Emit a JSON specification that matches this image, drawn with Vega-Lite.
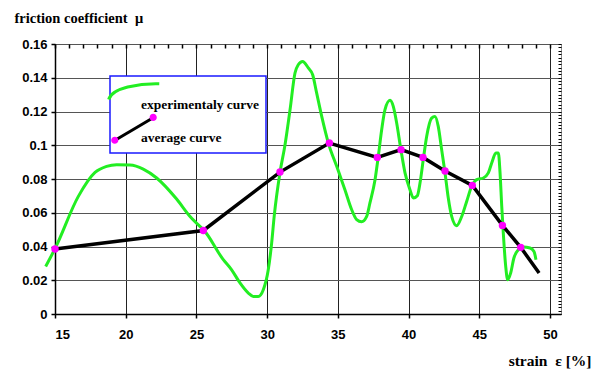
{
  "$schema": "https://vega.github.io/schema/vega-lite/v6.json",
  "autosize": {"type": "none"},
  "padding": {"left": 55, "top": 44, "right": 42, "bottom": 57},
  "width": 506,
  "height": 270,
  "background": "white",
  "config": {
    "view": {"stroke": "#8a8a8a", "strokeWidth": 1},
    "axis": {"labelFont": "Liberation Sans", "labelFontWeight": "bold", "labelFontSize": 13, "labelColor": "black", "tickColor": "black", "domainColor": "black"}
  },
  "datasets": {
    "experimental": [
      {"strain": 14.34, "mu": 0.0282, "series": "experimentaly curve"},
      {"strain": 15.0, "mu": 0.0387, "series": "experimentaly curve"},
      {"strain": 16.65, "mu": 0.0697, "series": "experimentaly curve"},
      {"strain": 17.83, "mu": 0.0839, "series": "experimentaly curve"},
      {"strain": 18.65, "mu": 0.0875, "series": "experimentaly curve"},
      {"strain": 19.36, "mu": 0.0885, "series": "experimentaly curve"},
      {"strain": 20.3, "mu": 0.0883, "series": "experimentaly curve"},
      {"strain": 21.24, "mu": 0.0859, "series": "experimentaly curve"},
      {"strain": 22.19, "mu": 0.0806, "series": "experimentaly curve"},
      {"strain": 23.6, "mu": 0.0681, "series": "experimentaly curve"},
      {"strain": 24.55, "mu": 0.0578, "series": "experimentaly curve"},
      {"strain": 25.25, "mu": 0.0519, "series": "experimentaly curve"},
      {"strain": 25.49, "mu": 0.05, "series": "experimentaly curve"},
      {"strain": 26.9, "mu": 0.0322, "series": "experimentaly curve"},
      {"strain": 27.49, "mu": 0.0262, "series": "experimentaly curve"},
      {"strain": 28.08, "mu": 0.0184, "series": "experimentaly curve"},
      {"strain": 28.67, "mu": 0.0124, "series": "experimentaly curve"},
      {"strain": 29.02, "mu": 0.0104, "series": "experimentaly curve"},
      {"strain": 29.37, "mu": 0.0104, "series": "experimentaly curve"},
      {"strain": 29.73, "mu": 0.0144, "series": "experimentaly curve"},
      {"strain": 30.08, "mu": 0.0262, "series": "experimentaly curve"},
      {"strain": 30.32, "mu": 0.042, "series": "experimentaly curve"},
      {"strain": 30.5, "mu": 0.058, "series": "experimentaly curve"},
      {"strain": 30.91, "mu": 0.0839, "series": "experimentaly curve"},
      {"strain": 31.26, "mu": 0.1, "series": "experimentaly curve"},
      {"strain": 31.62, "mu": 0.121, "series": "experimentaly curve"},
      {"strain": 31.97, "mu": 0.1428, "series": "experimentaly curve"},
      {"strain": 32.2, "mu": 0.1477, "series": "experimentaly curve"},
      {"strain": 32.51, "mu": 0.1497, "series": "experimentaly curve"},
      {"strain": 32.91, "mu": 0.1458, "series": "experimentaly curve"},
      {"strain": 33.22, "mu": 0.1418, "series": "experimentaly curve"},
      {"strain": 33.5, "mu": 0.131, "series": "experimentaly curve"},
      {"strain": 33.86, "mu": 0.1171, "series": "experimentaly curve"},
      {"strain": 34.33, "mu": 0.1013, "series": "experimentaly curve"},
      {"strain": 34.92, "mu": 0.0875, "series": "experimentaly curve"},
      {"strain": 35.5, "mu": 0.0737, "series": "experimentaly curve"},
      {"strain": 35.98, "mu": 0.0618, "series": "experimentaly curve"},
      {"strain": 36.33, "mu": 0.0559, "series": "experimentaly curve"},
      {"strain": 36.68, "mu": 0.0546, "series": "experimentaly curve"},
      {"strain": 37.04, "mu": 0.0578, "series": "experimentaly curve"},
      {"strain": 37.27, "mu": 0.0658, "series": "experimentaly curve"},
      {"strain": 37.63, "mu": 0.0796, "series": "experimentaly curve"},
      {"strain": 37.86, "mu": 0.0934, "series": "experimentaly curve"},
      {"strain": 38.1, "mu": 0.1092, "series": "experimentaly curve"},
      {"strain": 38.33, "mu": 0.121, "series": "experimentaly curve"},
      {"strain": 38.69, "mu": 0.1266, "series": "experimentaly curve"},
      {"strain": 38.92, "mu": 0.123, "series": "experimentaly curve"},
      {"strain": 39.16, "mu": 0.1132, "series": "experimentaly curve"},
      {"strain": 39.44, "mu": 0.0984, "series": "experimentaly curve"},
      {"strain": 39.75, "mu": 0.0836, "series": "experimentaly curve"},
      {"strain": 40.1, "mu": 0.0737, "series": "experimentaly curve"},
      {"strain": 40.34, "mu": 0.0687, "series": "experimentaly curve"},
      {"strain": 40.62, "mu": 0.0701, "series": "experimentaly curve"},
      {"strain": 40.81, "mu": 0.0776, "series": "experimentaly curve"},
      {"strain": 41.04, "mu": 0.0914, "series": "experimentaly curve"},
      {"strain": 41.28, "mu": 0.1052, "series": "experimentaly curve"},
      {"strain": 41.63, "mu": 0.1161, "series": "experimentaly curve"},
      {"strain": 41.87, "mu": 0.1171, "series": "experimentaly curve"},
      {"strain": 42.1, "mu": 0.1112, "series": "experimentaly curve"},
      {"strain": 42.34, "mu": 0.0974, "series": "experimentaly curve"},
      {"strain": 42.58, "mu": 0.0836, "series": "experimentaly curve"},
      {"strain": 42.81, "mu": 0.0687, "series": "experimentaly curve"},
      {"strain": 43.05, "mu": 0.0578, "series": "experimentaly curve"},
      {"strain": 43.4, "mu": 0.0523, "series": "experimentaly curve"},
      {"strain": 43.76, "mu": 0.0578, "series": "experimentaly curve"},
      {"strain": 44.11, "mu": 0.0667, "series": "experimentaly curve"},
      {"strain": 44.46, "mu": 0.0756, "series": "experimentaly curve"},
      {"strain": 44.82, "mu": 0.0796, "series": "experimentaly curve"},
      {"strain": 45.29, "mu": 0.0806, "series": "experimentaly curve"},
      {"strain": 45.64, "mu": 0.0836, "series": "experimentaly curve"},
      {"strain": 45.88, "mu": 0.0895, "series": "experimentaly curve"},
      {"strain": 46.18, "mu": 0.0954, "series": "experimentaly curve"},
      {"strain": 46.35, "mu": 0.0954, "series": "experimentaly curve"},
      {"strain": 46.47, "mu": 0.0836, "series": "experimentaly curve"},
      {"strain": 46.59, "mu": 0.0638, "series": "experimentaly curve"},
      {"strain": 46.7, "mu": 0.048, "series": "experimentaly curve"},
      {"strain": 46.87, "mu": 0.0282, "series": "experimentaly curve"},
      {"strain": 47.01, "mu": 0.0203, "series": "experimentaly curve"},
      {"strain": 47.22, "mu": 0.0243, "series": "experimentaly curve"},
      {"strain": 47.45, "mu": 0.0332, "series": "experimentaly curve"},
      {"strain": 47.76, "mu": 0.0381, "series": "experimentaly curve"},
      {"strain": 48.11, "mu": 0.0397, "series": "experimentaly curve"},
      {"strain": 48.59, "mu": 0.0391, "series": "experimentaly curve"},
      {"strain": 48.87, "mu": 0.0371, "series": "experimentaly curve"},
      {"strain": 49.01, "mu": 0.0322, "series": "experimentaly curve"}
    ],
    "average": [
      {"strain": 15.0, "mu": 0.0385, "series": "average curve", "marker": "dot"},
      {"strain": 25.49, "mu": 0.0495, "series": "average curve", "marker": "dot"},
      {"strain": 30.91, "mu": 0.0841, "series": "average curve", "marker": "dot"},
      {"strain": 34.4, "mu": 0.1013, "series": "average curve", "marker": "dot"},
      {"strain": 37.79, "mu": 0.0928, "series": "average curve", "marker": "dot"},
      {"strain": 39.47, "mu": 0.0974, "series": "average curve", "marker": "dot"},
      {"strain": 41.02, "mu": 0.0928, "series": "average curve", "marker": "dot"},
      {"strain": 42.58, "mu": 0.0847, "series": "average curve", "marker": "dot"},
      {"strain": 44.51, "mu": 0.0762, "series": "average curve", "marker": "dot"},
      {"strain": 46.64, "mu": 0.0525, "series": "average curve", "marker": "dot"},
      {"strain": 47.93, "mu": 0.0395, "series": "average curve", "marker": "dot"},
      {"strain": 49.23, "mu": 0.0243, "series": "average curve", "marker": "none"}
    ]
  },
  "resolve": {"axis": {"x": "independent", "y": "independent"}},
  "layer": [
    {
      "data": {"name": "experimental"},
      "mark": {"type": "line", "strokeWidth": 3, "interpolate": "monotone", "clip": false},
      "encoding": {
        "x": {
          "field": "strain", "type": "quantitative",
          "scale": {"domain": [15, 50.78], "nice": false, "zero": false},
          "axis": {
            "values": [15, 20, 25, 30, 35, 40, 45, 50],
            "grid": true, "gridColor": "#222222", "gridWidth": 1,
            "domainWidth": 1.5, "tickSize": 4, "tickWidth": 1.5, "labelPadding": 10,
            "title": "strain \u00a0ε [%]", "titleFont": "Liberation Serif", "titleFontWeight": "bold", "titleFontSize": 15.5,
            "titleX": 536, "titleY": 51, "titleAlign": "right", "titleBaseline": "alphabetic", "titleAnchor": null
          }
        },
        "y": {
          "field": "mu", "type": "quantitative",
          "scale": {"domain": [0, 0.16], "nice": false},
          "axis": {
            "values": [0, 0.02, 0.04, 0.06, 0.08, 0.1, 0.12, 0.14, 0.16],
            "format": "~g",
            "grid": true, "gridColor": "#555555", "gridWidth": 1,
            "domainWidth": 1.5, "tickSize": 4, "tickWidth": 1.5, "labelPadding": 4,
            "title": "friction coefficient \u00a0μ", "titleFont": "Liberation Serif", "titleFontWeight": "bold", "titleFontSize": 14.5,
            "titleAngle": 0, "titleX": -41, "titleY": -22, "titleAlign": "left", "titleBaseline": "alphabetic", "titleAnchor": null
          }
        },
        "color": {
          "field": "series", "type": "nominal",
          "scale": {"domain": ["experimentaly curve", "average curve"], "range": ["#22ee22", "#000000"]},
          "legend": {
            "orient": "none", "legendX": 55, "legendY": 32,
            "title": "\u00a0", "titleFontSize": 8, "titlePadding": 4,
            "strokeColor": "#1a1aff", "fillColor": "white", "padding": 6,
            "symbolSize": 324, "symbolStrokeWidth": 3,
            "labelFont": "Liberation Serif", "labelFontWeight": "bold", "labelFontSize": 13.5, "labelColor": "black",
            "labelOffset": 4, "rowPadding": 0,
            "encode": {
              "legend": {"update": {"strokeWidth": {"value": 1.5}}},
              "symbols": {"update": {
                "shape": {"signal": "datum.value === 'average curve' ? 'M-1.36,0.36 L2.91,-2.17' : 'M-1.98,-0.56 Q-1.7,-1.5 0.13,-1.95 Q1.9,-2.35 3.64,-2.3'"},
                "fill": {"value": "transparent"}
              }}
            }
          }
        }
      }
    },
    {
      "data": {"name": "average"},
      "mark": {"type": "line", "strokeWidth": 3.5},
      "encoding": {
        "x": {
          "field": "strain", "type": "quantitative",
          "axis": {
            "values": [15,16,17,18,19,20,21,22,23,24,25,26,27,28,29,30,31,32,33,34,35,36,37,38,39,40,41,42,43,44,45,46,47,48,49,50],
            "tickSize": -4, "tickWidth": 1.5, "labels": false, "domain": false, "grid": false, "title": null
          }
        },
        "y": {
          "field": "mu", "type": "quantitative",
          "axis": {
            "values": [0,0.002,0.004,0.006,0.008,0.01,0.012,0.014,0.016,0.018,0.02,0.022,0.024,0.026,0.028,0.03,0.032,0.034,0.036,0.038,0.04,0.042,0.044,0.046,0.048,0.05,0.052,0.054,0.056,0.058,0.06,0.062,0.064,0.066,0.068,0.07,0.072,0.074,0.076,0.078,0.08,0.082,0.084,0.086,0.088,0.09,0.092,0.094,0.096,0.098,0.1,0.102,0.104,0.106,0.108,0.11,0.112,0.114,0.116,0.118,0.12,0.122,0.124,0.126,0.128,0.13,0.132,0.134,0.136,0.138,0.14,0.142,0.144,0.146,0.148,0.15,0.152,0.154,0.156,0.158,0.16],
            "tickSize": -3, "tickWidth": 1, "labels": false, "domain": false, "grid": false, "title": null
          }
        },
        "color": {"field": "series", "type": "nominal"}
      }
    },
    {
      "data": {"name": "average"},
      "transform": [{"filter": "datum.marker === 'dot'"}],
      "mark": {"type": "point", "filled": true, "size": 55, "opacity": 1},
      "encoding": {
        "x": {"field": "strain", "type": "quantitative", "axis": null},
        "y": {"field": "mu", "type": "quantitative", "axis": null},
        "fill": {
          "field": "marker", "type": "nominal",
          "scale": {"domain": ["dot"], "range": ["#ff00ff"]},
          "legend": {
            "orient": "none", "legendX": 57, "legendY": 78, "title": null,
            "padding": 6, "symbolSize": 324, "symbolStrokeWidth": 0,
            "labelFontSize": 12, "labelExpr": "''", "labelOffset": 4,
            "symbolType": "M-1.76,0.36 A0.4,0.4 0 1,0 -0.96,0.36 A0.4,0.4 0 1,0 -1.76,0.36 Z M2.51,-2.17 A0.4,0.4 0 1,0 3.31,-2.17 A0.4,0.4 0 1,0 2.51,-2.17 Z"
          }
        }
      }
    }
  ]
}
